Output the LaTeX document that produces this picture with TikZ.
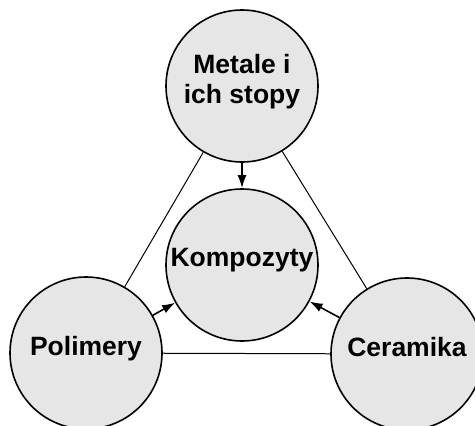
\documentclass[tikz,border=0pt]{standalone}
\usepackage{fontspec}
\setmainfont{Liberation Sans}
\usepackage{tikz}
\usetikzlibrary{arrows.meta}
\definecolor{ballfill}{HTML}{E6E6E6}

\begin{document}
\begin{tikzpicture}[x=1pt,y=1pt,yscale=-1,
    ball/.style={circle,draw=black,fill=ballfill,line width=1.6pt,minimum size=152pt,inner sep=0pt,
                 align=center,font=\fontsize{26.5}{30}\selectfont\bfseries,text depth=15pt},
    link/.style={draw=black,line width=1pt},
    feed/.style={draw=black,line width=1.6pt,-{Latex[length=13pt,width=9pt]}}]
        % Frame of the picture
        \useasboundingbox (0,0) rectangle (475,426);

        % Circles
        \node[ball] (metale) at (242,86) {Metale i\\ich stopy};
        \node[ball] (komp) at (242,265) {Kompozyty};
        \node[ball] (polimery) at (86,353) {Polimery};
        \node[ball] (ceramika) at (407,354) {Ceramika};

        % Straight Lines
        \draw[link] (metale) -- (polimery);
        \draw[link] (metale) -- (ceramika);
        \draw[link] (polimery) -- (ceramika);

        % Arrows
        \draw[feed] (metale) -- (komp);
        \draw[feed] (polimery) -- (komp);
        \draw[feed] (ceramika) -- (komp);
    \end{tikzpicture}
\end{document}
